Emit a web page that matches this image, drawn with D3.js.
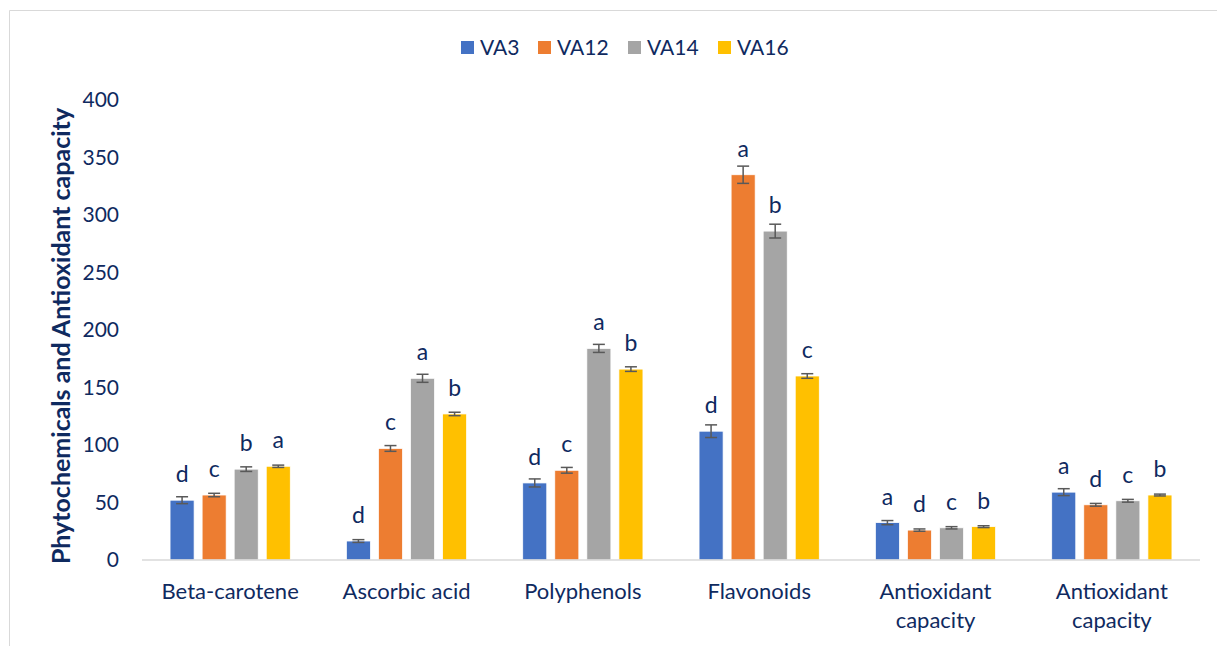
<!DOCTYPE html>
<html><head><meta charset="utf-8">
<script src="https://cdn.jsdelivr.net/npm/d3@7"></script>
<style>body{margin:0;background:#fff}svg{display:block}</style>
</head><body>
<script>
const categories = ["Beta-carotene","Ascorbic acid","Polyphenols","Flavonoids","Antioxidant capacity","Antioxidant capacity "];
const series = ["VA3","VA12","VA14","VA16"];
const colors = ["#4472C4","#ED7D31","#A5A5A5","#FFC000"];
const VA3  = [52, 16.5, 67, 112, 32.5, 59];
const VA12 = [56.5, 97, 78, 335, 26, 48];
const VA14 = [79, 158, 184, 286, 28, 51.5];
const VA16 = [81.5, 127, 166, 160, 29, 56.5];
const err3  = [3, 1.2, 3.5, 5.5, 1.8, 3];
const err12 = [1.5, 2.5, 2.5, 7.5, 1, 1.2];
const err14 = [2, 3.5, 3.5, 6, 1, 1.2];
const err16 = [1, 1.5, 2, 2, 0.8, 0.8];
const letters3  = ["d","d","d","d","a","a"];
const letters12 = ["c","c","c","a","d","d"];
const letters14 = ["b","a","a","b","c","c"];
const letters16 = ["a","b","b","c","b","b"];
const yTicks = [0,50,100,150,200,250,300,350,400];

const values = [VA3, VA12, VA14, VA16];
const errs = [err3, err12, err14, err16];
const letters = [letters3, letters12, letters14, letters16];

const W = 1217, H = 646;
const textColor = "#0f2a5f";
const font = "Lato, 'Open Sans', sans-serif";
const svg = d3.select("body").append("svg").attr("width", W).attr("height", H);

// border
svg.append("path").attr("d", `M9.5,${H} V10.5 H${W}`).attr("fill","none").attr("stroke","#d9d9d9").attr("stroke-width",1);

const y = d3.scaleLinear().domain([0,400]).range([560,100]);
const x0 = d3.scaleBand().domain(categories).range([142,1200]).paddingInner(56/176).paddingOuter(28/176);
const x1 = d3.scaleBand().domain(series).range([0, x0.bandwidth()]).paddingInner(0.25).paddingOuter(0);

// y tick labels
svg.append("g").selectAll("text").data(yTicks).join("text")
  .attr("x", 119).attr("y", d => y(d)).attr("dy","0.35em")
  .attr("text-anchor","end").attr("font-family",font).attr("font-size",21)
  .attr("fill",textColor).text(d => d);

// y title
svg.append("text").attr("transform","translate(70,336) rotate(-90)")
  .attr("text-anchor","middle").attr("font-family",font).attr("font-size",25)
  .attr("font-weight","bold").attr("fill",textColor)
  .text("Phytochemicals and Antioxidant capacity");

// bars
series.forEach((s, si) => {
  const g = svg.append("g");
  g.selectAll("rect").data(categories).join("rect")
    .attr("x", c => x0(c) + x1(s)).attr("width", x1.bandwidth())
    .attr("y", (c,i) => y(values[si][i])).attr("height", (c,i) => y(0) - y(values[si][i]))
    .attr("fill", colors[si]).attr("stroke","#fff").attr("stroke-width",0.75);
  // error bars
  categories.forEach((c, i) => {
    const cx = x0(c) + x1(s) + x1.bandwidth()/2;
    const v = values[si][i], e = errs[si][i];
    const eg = g.append("g").attr("stroke","#595959").attr("stroke-width",1.5);
    eg.append("line").attr("x1",cx).attr("x2",cx).attr("y1",y(v+e)).attr("y2",y(v-e));
    eg.append("line").attr("x1",cx-6).attr("x2",cx+6).attr("y1",y(v+e)).attr("y2",y(v+e));
    eg.append("line").attr("x1",cx-6).attr("x2",cx+6).attr("y1",y(v-e)).attr("y2",y(v-e));
  });
  g.selectAll("text.lbl").data(categories).join("text").attr("class","lbl")
    .attr("x", c => x0(c) + x1(s) + x1.bandwidth()/2)
    .attr("y", (c,i) => y(values[si][i]) - 18)
    .attr("text-anchor","middle").attr("font-family",font).attr("font-size",23)
    .attr("fill",textColor).text((c,i) => letters[si][i]);
});

// x axis line
svg.append("line").attr("x1",142).attr("x2",1200).attr("y1",y(0)).attr("y2",y(0))
  .attr("stroke","#d9d9d9").attr("stroke-width",1.5);

// category labels
const cl = svg.append("g");
categories.forEach(c => {
  const cx = x0(c) + x0.bandwidth()/2;
  const words = c.trim() === "Antioxidant capacity" ? ["Antioxidant","capacity"] : [c];
  words.forEach((w, k) => {
    cl.append("text").attr("x",cx).attr("y", 591 + k*29).attr("dy","0.35em")
      .attr("text-anchor","middle").attr("font-family",font).attr("font-size",22)
      .attr("fill",textColor).text(w);
  });
});

// legend
const legX = [461, 538, 628, 718];
series.forEach((s, si) => {
  svg.append("rect").attr("x",legX[si]).attr("y",41).attr("width",13).attr("height",13).attr("fill",colors[si]);
  svg.append("text").attr("x",legX[si]+19).attr("y",48).attr("dy","0.35em")
    .attr("font-family",font).attr("font-size",21).attr("fill",textColor).text(s);
});
</script>
</body></html>
